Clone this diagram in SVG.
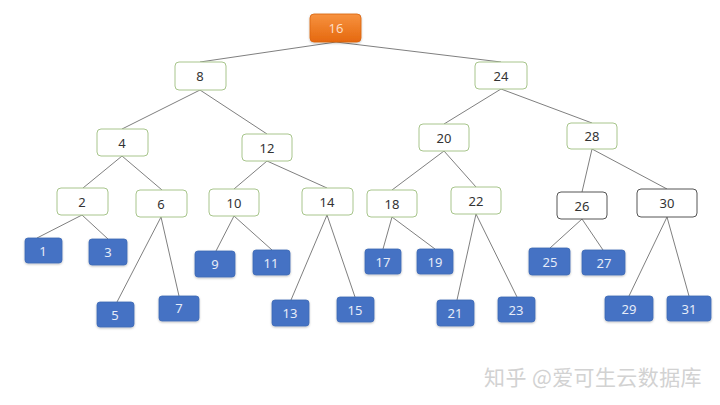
<svg xmlns="http://www.w3.org/2000/svg" width="720" height="405" viewBox="0 0 720 405">
<defs>
<linearGradient id="og" x1="0" y1="0" x2="0" y2="1">
<stop offset="0" stop-color="#F7923F"/>
<stop offset="1" stop-color="#E5680F"/>
</linearGradient>
<filter id="sh" x="-20%" y="-20%" width="140%" height="150%">
<feDropShadow dx="0" dy="1" stdDeviation="0.8" flood-color="#000" flood-opacity="0.25"/>
</filter>
</defs>
<style>
.w rect{fill:#fff;stroke:#A8C58C;stroke-width:1}
.g rect{fill:#fff;stroke:#555;stroke-width:1}
.b rect{fill:#4472C4;stroke:#3F69B5;stroke-width:0.8;filter:url(#sh)}
.o rect{fill:url(#og);stroke:#D9630E;stroke-width:0.8;filter:url(#sh)}
text{font-family:"Noto Sans","DejaVu Sans",sans-serif;font-size:13px;text-anchor:middle;dominant-baseline:central}
.w text,.g text{fill:#333}
.b text{fill:#E6ECF8}
.o text{fill:#FCDCC4}
#edges line{stroke:#707070;stroke-width:0.9}
.wm{font-family:"Noto Sans CJK SC",sans-serif;font-size:21px;letter-spacing:0.4px;fill:#D2D2D2;text-anchor:start;dominant-baseline:auto}
</style>
<g id="edges">
<line x1="336" y1="42" x2="200" y2="62"/>
<line x1="336" y1="42" x2="501" y2="62"/>
<line x1="200" y1="90" x2="122" y2="129"/>
<line x1="200" y1="90" x2="267" y2="134"/>
<line x1="501" y1="89" x2="444" y2="124"/>
<line x1="501" y1="89" x2="592" y2="123"/>
<line x1="122" y1="156" x2="83" y2="188"/>
<line x1="122" y1="156" x2="162" y2="190"/>
<line x1="267" y1="161" x2="234" y2="189"/>
<line x1="267" y1="161" x2="327" y2="188"/>
<line x1="444" y1="151" x2="392" y2="190"/>
<line x1="444" y1="151" x2="476" y2="187"/>
<line x1="592" y1="149" x2="582" y2="192"/>
<line x1="592" y1="149" x2="667" y2="189"/>
<line x1="82" y1="215" x2="37" y2="238"/>
<line x1="82" y1="215" x2="108" y2="239"/>
<line x1="161" y1="217" x2="117" y2="302"/>
<line x1="161" y1="217" x2="179" y2="296"/>
<line x1="234" y1="216" x2="216" y2="251"/>
<line x1="234" y1="216" x2="272" y2="250"/>
<line x1="327" y1="215" x2="291" y2="300"/>
<line x1="327" y1="215" x2="355" y2="297"/>
<line x1="392" y1="217" x2="383" y2="249"/>
<line x1="392" y1="217" x2="435" y2="249"/>
<line x1="476" y1="214" x2="457" y2="300"/>
<line x1="476" y1="214" x2="517" y2="297"/>
<line x1="582" y1="219" x2="550" y2="248"/>
<line x1="582" y1="219" x2="603" y2="250"/>
<line x1="667" y1="217" x2="629" y2="296"/>
<line x1="667" y1="217" x2="689" y2="296"/>
</g>
<g id="n16" class="o"><rect x="310" y="14" width="51" height="28" rx="4"/><text x="336" y="28">16</text></g>
<g id="n8" class="w"><rect x="175" y="62" width="51" height="28" rx="4"/><text x="200" y="76">8</text></g>
<g id="n24" class="w"><rect x="475" y="62" width="52" height="27" rx="4"/><text x="501" y="76">24</text></g>
<g id="n4" class="w"><rect x="97" y="129" width="51" height="27" rx="4"/><text x="122" y="143">4</text></g>
<g id="n12" class="w"><rect x="242" y="134" width="50" height="27" rx="4"/><text x="267" y="148">12</text></g>
<g id="n20" class="w"><rect x="419" y="124" width="50" height="27" rx="4"/><text x="444" y="138">20</text></g>
<g id="n28" class="w"><rect x="567" y="123" width="50" height="26" rx="4"/><text x="592" y="136">28</text></g>
<g id="n2" class="w"><rect x="57" y="188" width="51" height="27" rx="4"/><text x="82" y="202">2</text></g>
<g id="n6" class="w"><rect x="136" y="190" width="51" height="27" rx="4"/><text x="161" y="204">6</text></g>
<g id="n10" class="w"><rect x="209" y="189" width="50" height="27" rx="4"/><text x="234" y="203">10</text></g>
<g id="n14" class="w"><rect x="302" y="188" width="51" height="27" rx="4"/><text x="327" y="202">14</text></g>
<g id="n18" class="w"><rect x="367" y="190" width="50" height="27" rx="4"/><text x="392" y="204">18</text></g>
<g id="n22" class="w"><rect x="451" y="187" width="50" height="27" rx="4"/><text x="476" y="201">22</text></g>
<g id="n26" class="g"><rect x="557" y="192" width="50" height="27" rx="4"/><text x="582" y="206">26</text></g>
<g id="n30" class="g"><rect x="637" y="189" width="60" height="28" rx="4"/><text x="667" y="203">30</text></g>
<g id="n1" class="b"><rect x="25" y="238" width="37" height="25" rx="3"/><text x="43" y="251">1</text></g>
<g id="n3" class="b"><rect x="89" y="239" width="38" height="26" rx="3"/><text x="108" y="252">3</text></g>
<g id="n5" class="b"><rect x="97" y="302" width="37" height="25" rx="3"/><text x="115" y="315">5</text></g>
<g id="n7" class="b"><rect x="159" y="296" width="40" height="25" rx="3"/><text x="179" y="308">7</text></g>
<g id="n9" class="b"><rect x="195" y="251" width="40" height="26" rx="3"/><text x="215" y="264">9</text></g>
<g id="n11" class="b"><rect x="253" y="250" width="37" height="25" rx="3"/><text x="271" y="263">11</text></g>
<g id="n13" class="b"><rect x="272" y="300" width="37" height="26" rx="3"/><text x="290" y="313">13</text></g>
<g id="n15" class="b"><rect x="337" y="297" width="37" height="25" rx="3"/><text x="355" y="310">15</text></g>
<g id="n17" class="b"><rect x="365" y="249" width="36" height="25" rx="3"/><text x="383" y="262">17</text></g>
<g id="n19" class="b"><rect x="417" y="249" width="36" height="25" rx="3"/><text x="435" y="262">19</text></g>
<g id="n21" class="b"><rect x="437" y="300" width="37" height="26" rx="3"/><text x="455" y="313">21</text></g>
<g id="n23" class="b"><rect x="498" y="297" width="37" height="25" rx="3"/><text x="516" y="310">23</text></g>
<g id="n25" class="b"><rect x="529" y="248" width="41" height="27" rx="3"/><text x="550" y="262">25</text></g>
<g id="n27" class="b"><rect x="582" y="250" width="43" height="25" rx="3"/><text x="604" y="263">27</text></g>
<g id="n29" class="b"><rect x="605" y="296" width="48" height="25" rx="3"/><text x="629" y="309">29</text></g>
<g id="n31" class="b"><rect x="667" y="296" width="44" height="25" rx="3"/><text x="689" y="309">31</text></g>
<text class="wm" x="484" y="385">知乎 @爱可生云数据库</text>
</svg>
